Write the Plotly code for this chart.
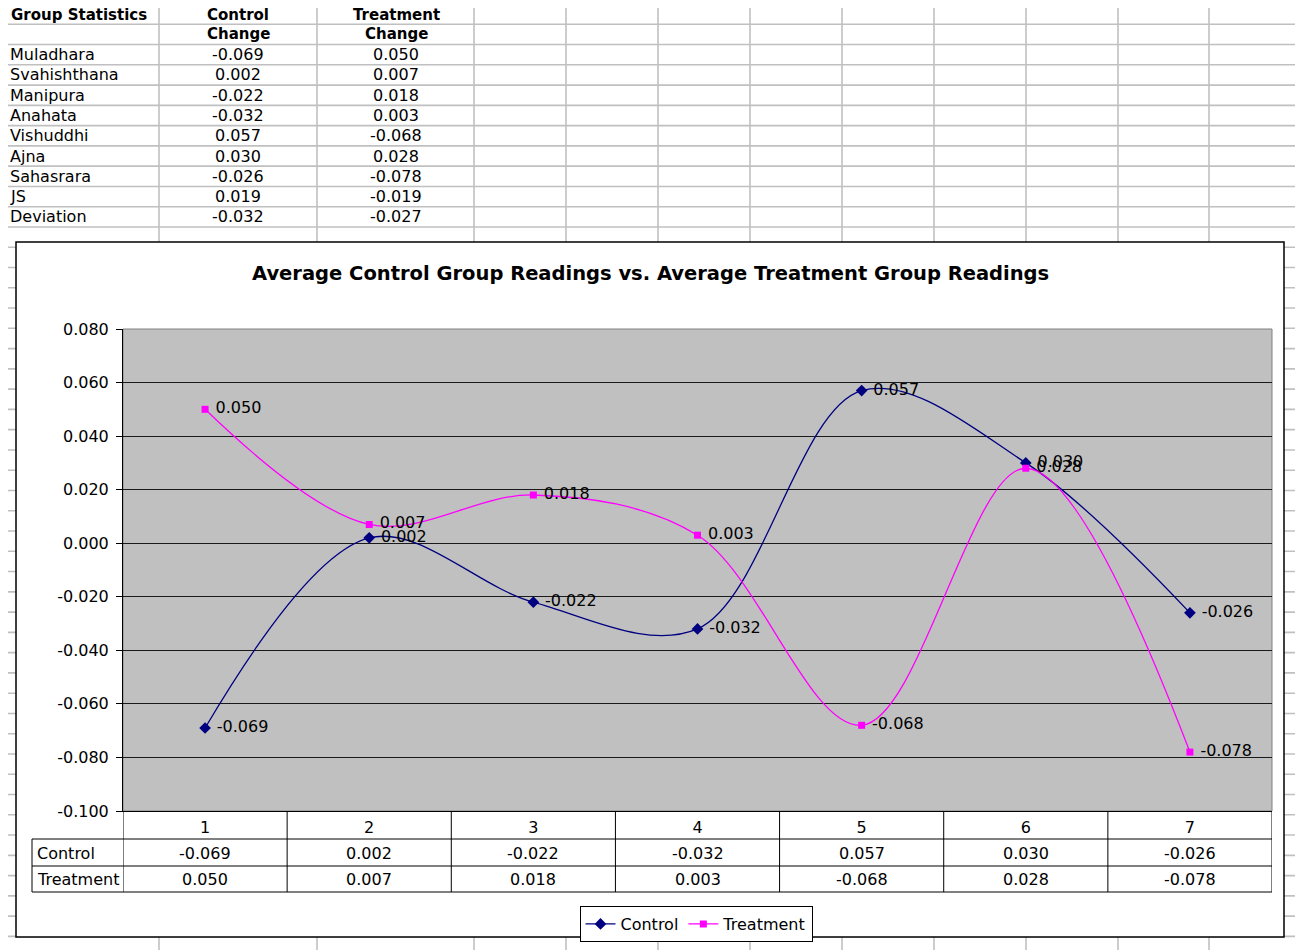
import plotly.graph_objects as go

# the page adds an 8px body margin, so the figure is drawn 8px in from the corner
OFF = 8
W, H = 1303 - OFF, 950 - OFF
FONT = "DejaVu Sans"

# data from the sheet
chakras = ["Muladhara", "Svahishthana", "Manipura", "Anahata", "Vishuddhi",
           "Ajna", "Sahasrara", "JS", "Deviation"]
control_change = [-0.069, 0.002, -0.022, -0.032, 0.057, 0.030, -0.026, 0.019, -0.032]
treatment_change = [0.050, 0.007, 0.018, 0.003, -0.068, 0.028, -0.078, -0.019, -0.027]

# chart series (first seven rows)
categories = [1, 2, 3, 4, 5, 6, 7]
control = control_change[:7]
treatment = treatment_change[:7]

y_ticks = [-0.100, -0.080, -0.060, -0.040, -0.020, 0.000, 0.020, 0.040, 0.060, 0.080]
y_labels = [f"{v:.3f}" for v in y_ticks]


def px(x):
    return (x - OFF) / W


def py(y):
    return 1 - (y - OFF) / H


def fmt(v):
    return f"{v:.3f}"


def label(x, y, text, size=16, xanchor="center", xref="paper"):
    return dict(x=x, y=py(y), xref=xref, yref="paper", xanchor=xanchor, yanchor="middle",
                text=text, showarrow=False, borderpad=0,
                font=dict(size=size, color="black", family=FONT))


shapes = []
annotations = []

# spreadsheet gridlines behind everything
col_x = [5, 159, 317, 474, 566, 658, 750, 842, 934, 1026, 1118, 1209, 1301]
row_y = [4 + 20.27 * k for k in range(47)]
for x in col_x:
    shapes.append(dict(type="line", xref="paper", yref="paper", layer="below",
                       x0=px(x), x1=px(x), y0=py(4), y1=py(952),
                       line=dict(color="#C0C0C0", width=1.6)))
for y in row_y:
    shapes.append(dict(type="line", xref="paper", yref="paper", layer="below",
                       x0=px(5), x1=px(1305), y0=py(y), y1=py(y),
                       line=dict(color="#C0C0C0", width=1.6)))

# top table text
annotations.append(label(px(10), 15, "<b>Group Statistics</b>", 15, "left"))
for cx, top in [(238, "Control"), (396, "Treatment")]:
    annotations.append(label(px(cx), 15, f"<b>{top}</b>", 15))
    annotations.append(label(px(cx), 34, "<b>Change</b>", 15))
for i, name in enumerate(chakras):
    yc = 4 + 20.27 * (i + 2.5)
    annotations.append(label(px(9), yc, name, 16, "left"))
    annotations.append(label(px(238), yc, fmt(control_change[i])))
    annotations.append(label(px(396), yc, fmt(treatment_change[i])))

# chart box
shapes.append(dict(type="rect", xref="paper", yref="paper", layer="below",
                   x0=px(16), x1=px(1284), y0=py(242), y1=py(937),
                   fillcolor="white", line=dict(color="black", width=1.5)))
# plot area
shapes.append(dict(type="rect", xref="paper", yref="paper", layer="below",
                   x0=px(123), x1=px(1272), y0=py(329), y1=py(811),
                   fillcolor="#C0C0C0", line=dict(color="#808080", width=1)))

annotations.append(label(px(650), 274,
                         "<b>Average Control Group Readings vs. Average Treatment Group Readings</b>",
                         19.5))

# data table under the chart
tbl_top, tbl_r1, tbl_r2, tbl_bot = 811, 839, 866, 892
for k in range(len(categories) + 1):
    shapes.append(dict(type="line", xref="x", yref="paper", layer="above",
                       x0=categories[0] - 0.5 + k, x1=categories[0] - 0.5 + k,
                       y0=py(tbl_top), y1=py(tbl_bot),
                       line=dict(color="black", width=1)))
shapes.append(dict(type="line", xref="paper", yref="paper",
                   x0=px(32), x1=px(32), y0=py(tbl_r1), y1=py(tbl_bot),
                   line=dict(color="black", width=1)))
for y in [tbl_r1, tbl_r2, tbl_bot]:
    shapes.append(dict(type="line", xref="paper", yref="paper",
                       x0=px(32), x1=px(1272), y0=py(y), y1=py(y),
                       line=dict(color="black", width=1)))

annotations.append(label(px(36), 853, "Control", 16, "left"))
annotations.append(label(px(36), 879, "Treatment", 16, "left"))
for c, cv, tv in zip(categories, control, treatment):
    annotations.append(label(c, 853, fmt(cv), xref="x"))
    annotations.append(label(c, 879, fmt(tv), xref="x"))

fig = go.Figure()

fig.add_trace(go.Scatter(
    x=categories, y=control, name="Control",
    mode="lines+markers+text",
    line=dict(color="#000080", width=1.3, shape="spline"),
    marker=dict(symbol="diamond", size=9, color="#000080"),
    text=[" " + fmt(v) for v in control], textposition="middle right",
    textfont=dict(size=16, color="black", family=FONT),
    cliponaxis=False,
))
fig.add_trace(go.Scatter(
    x=categories, y=treatment, name="Treatment",
    mode="lines+markers+text",
    line=dict(color="#FF00FF", width=1.3, shape="spline"),
    marker=dict(symbol="square", size=7, color="#FF00FF"),
    text=[" " + fmt(v) for v in treatment], textposition="middle right",
    textfont=dict(size=16, color="black", family=FONT),
    cliponaxis=False,
))

fig.update_layout(
    width=W, height=H,
    margin=dict(l=0, r=0, t=0, b=0),
    paper_bgcolor="white",
    plot_bgcolor="rgba(0,0,0,0)",
    font=dict(family=FONT, size=16, color="black"),
    xaxis=dict(
        domain=[px(123), px(1272)],
        range=[0.5, 7.5],
        tickvals=categories,
        ticktext=[str(c) for c in categories],
        ticks="", showgrid=False, zeroline=False,
        showline=True, linecolor="black", linewidth=1,
        ticklabelstandoff=2,
        tickfont=dict(size=16, color="black", family=FONT),
        automargin=False, fixedrange=True,
    ),
    yaxis=dict(
        domain=[py(811), py(329)],
        range=[-0.1, 0.08],
        tickvals=y_ticks, ticktext=y_labels,
        ticks="outside", ticklen=6, tickcolor="black",
        ticklabelstandoff=4,
        showgrid=True, gridcolor="#1a1a1a", gridwidth=1,
        zeroline=False,
        showline=True, linecolor="black", linewidth=1,
        tickfont=dict(size=16, color="black", family=FONT),
        automargin=False, fixedrange=True,
    ),
    legend=dict(
        orientation="h",
        x=px(696), xanchor="center",
        y=py(906), yanchor="top",
        bgcolor="white", bordercolor="black", borderwidth=1,
        font=dict(size=16, color="black", family=FONT),
        itemwidth=30,
    ),
    shapes=shapes,
    annotations=annotations,
)

fig.write_html("out.html")
